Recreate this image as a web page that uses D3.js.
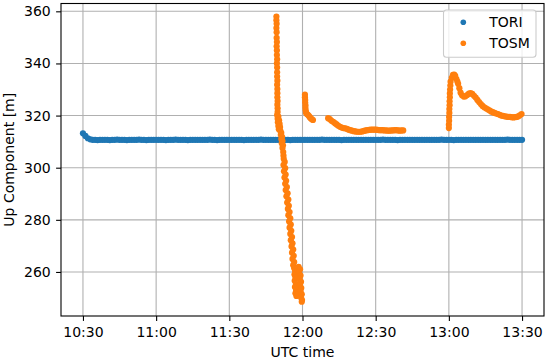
<!DOCTYPE html>
<html>
<head>
<meta charset="utf-8">
<script src="https://cdn.jsdelivr.net/npm/d3@7"></script>
<style>
    html, body { margin: 0; padding: 0; background: #fff; }
    svg { display: block; font-family: "DejaVu Sans", sans-serif; }
</style>
</head>
<body>
<svg id="chart" width="550" height="362"></svg>
<script>
// time is kept as minutes after the first epoch (10:30 UTC)
const startTime = "10:30";
const xDomain = ["10:21", "13:39"];
const yDomain = [243.1, 363.0];
const xTickLabels = ["10:30", "11:00", "11:30", "12:00", "12:30", "13:00", "13:30"];
const yTicks = [260, 280, 300, 320, 340, 360];
const seriesNames = ["TORI", "TOSM"];

// TORI: one sample per minute, 10:30 .. 13:30
const toriValues = [
    313.2, 312.2, 311.3, 310.9, 310.7, 310.7, 310.6, 310.7, 310.7, 310.7,
    310.7, 310.6, 310.7, 310.7, 310.8, 310.7, 310.7, 310.7, 310.6, 310.7,
    310.7, 310.7, 310.7, 310.8, 310.7, 310.7, 310.6, 310.7, 310.7, 310.7,
    310.7, 310.7, 310.7, 310.7, 310.6, 310.7, 310.7, 310.7, 310.8, 310.7,
    310.7, 310.7, 310.7, 310.6, 310.7, 310.7, 310.7, 310.7, 310.7, 310.7,
    310.7, 310.7, 310.8, 310.7, 310.7, 310.6, 310.7, 310.7, 310.7, 310.7,
    310.7, 310.7, 310.7, 310.7, 310.7, 310.7, 310.6, 310.7, 310.7, 310.7,
    310.7, 310.7, 310.7, 310.8, 310.7, 310.7, 310.7, 310.7, 310.7, 310.7,
    310.7, 310.7, 310.7, 310.7, 310.7, 310.6, 310.7, 310.7, 310.7, 310.7,
    310.7, 310.7, 310.7, 310.7, 310.7, 310.7, 310.7, 310.7, 310.8, 310.7,
    310.7, 310.7, 310.7, 310.7, 310.7, 310.7, 310.6, 310.7, 310.7, 310.7,
    310.7, 310.7, 310.7, 310.7, 310.7, 310.7, 310.7, 310.7, 310.7, 310.7,
    310.7, 310.7, 310.7, 310.8, 310.7, 310.7, 310.7, 310.7, 310.7, 310.6,
    310.7, 310.7, 310.7, 310.7, 310.7, 310.7, 310.7, 310.7, 310.7, 310.7,
    310.7, 310.7, 310.7, 310.7, 310.7, 310.7, 310.7, 310.8, 310.7, 310.7,
    310.7, 310.7, 310.6, 310.7, 310.7, 310.7, 310.7, 310.7, 310.7, 310.7,
    310.7, 310.7, 310.7, 310.7, 310.7, 310.7, 310.7, 310.7, 310.7, 310.7,
    310.7, 310.7, 310.7, 310.7, 310.8, 310.7, 310.7, 310.7, 310.7, 310.7,
    310.7
];

// TOSM: [minutes after 10:30, up component]
const tosmPoints = [
    // spike near 11:50
    [79.3, 358.0], [79.3, 356.6], [79.4, 355.2], [79.3, 353.6], [79.4, 352.0], [79.4, 349.8],
    [79.5, 348.2], [79.4, 346.6], [79.5, 345.0], [79.5, 343.2], [79.6, 341.6], [79.5, 340.0],
    [79.6, 338.4], [79.6, 336.6], [79.6, 335.0], [79.7, 333.4], [79.6, 331.8], [79.7, 330.2],
    [79.7, 328.6], [79.7, 327.0], [79.8, 325.6], [79.7, 324.2], [79.8, 322.8], [79.8, 321.4],
    [79.6, 320.2], [80.1, 319.6], [79.8, 318.8], [80.4, 318.2], [79.9, 317.4], [80.6, 316.8],
    [80.1, 316.0], [80.8, 315.6], [80.3, 314.8], [80.9, 314.2], [81.3, 313.4], [81.1, 312.6],
    [81.6, 311.8], [81.3, 311.0], [81.8, 310.2], [81.5, 309.4], [82.0, 308.6], [81.8, 307.6],
    [82.1, 306.0], [82.2, 304.6],
    [82.3, 303.4], [82.7, 302.2], [82.2, 301.0], [82.9, 299.8], [82.4, 298.6], [83.1, 297.4],
    [82.6, 296.2], [83.3, 295.0], [82.9, 293.8], [83.6, 292.6], [83.1, 291.4], [83.9, 290.2],
    [83.4, 289.0], [84.2, 287.8], [83.7, 286.6], [84.4, 285.4], [84.0, 284.2], [84.7, 283.0],
    [84.2, 281.8], [85.0, 280.6], [84.5, 279.4], [85.2, 278.2], [84.7, 277.0], [85.4, 275.8],
    [85.0, 274.6], [85.7, 273.4], [85.2, 272.2], [85.9, 271.0], [85.5, 269.8], [86.2, 268.6],
    [85.7, 267.4], [86.4, 266.2], [85.9, 265.0], [86.6, 263.8], [86.2, 262.6],
    [86.6, 261.4], [87.0, 260.2], [86.7, 259.0], [87.1, 257.8], [86.8, 256.6], [87.3, 255.4],
    [86.9, 254.2], [87.4, 253.0], [87.1, 251.8], [87.5, 250.8],
    [87.9, 261.5], [87.8, 258.0], [88.0, 254.5], [88.1, 251.5],
    [88.4, 262.0], [89.0, 261.0], [88.6, 259.8], [89.2, 258.6], [88.8, 257.4], [89.4, 256.2],
    [89.0, 255.0], [89.5, 253.8], [89.2, 252.6], [89.7, 251.4], [89.4, 250.2], [89.8, 249.2],
    [89.7, 248.6],
    // short piece after 12:00
    [91.0, 328.0], [91.0, 327.0], [91.1, 326.0], [91.1, 325.0], [91.2, 324.0], [91.2, 323.0],
    [91.3, 322.0], [91.4, 321.2], [91.7, 320.7], [92.1, 320.4], [92.5, 320.0], [92.9, 319.5],
    [93.3, 319.0], [93.8, 318.6], [94.3, 318.3],
    // 12:10 .. 12:41
    [100.5, 319.0], [101.2, 318.6], [101.9, 318.0], [102.6, 317.6], [103.3, 317.1], [104.0, 316.6],
    [104.7, 316.1], [105.4, 315.7], [106.1, 315.4], [106.8, 315.2], [107.5, 315.1], [108.2, 314.9],
    [108.9, 314.6], [109.6, 314.4], [110.3, 314.2], [111.0, 314.0], [111.7, 313.9], [112.4, 313.8],
    [113.1, 313.8], [113.8, 313.8], [114.5, 313.9], [115.2, 314.1], [115.9, 314.3], [116.6, 314.4],
    [117.3, 314.5], [118.0, 314.6], [118.7, 314.6], [119.4, 314.6], [120.1, 314.6], [120.8, 314.5],
    [121.5, 314.4], [122.2, 314.4], [122.9, 314.4], [123.6, 314.3], [124.3, 314.3], [125.0, 314.2],
    [125.7, 314.2], [126.4, 314.3], [127.1, 314.3], [127.8, 314.4], [128.5, 314.4], [129.2, 314.3],
    [129.9, 314.2], [130.6, 314.3], [131.3, 314.3],
    // 13:00 .. 13:30
    [150.0, 315.2], [150.0, 316.5], [150.1, 318.0], [150.1, 319.5], [150.2, 321.0], [150.2, 322.5],
    [150.3, 324.0], [150.3, 325.5], [150.4, 327.0], [150.4, 328.5], [150.5, 330.0], [150.6, 331.5],
    [150.7, 333.0], [151.2, 334.5], [151.7, 335.6], [152.2, 335.7], [152.6, 335.2], [153.1, 334.0],
    [153.5, 333.0], [153.8, 332.2], [154.3, 330.5], [154.8, 328.8], [155.4, 327.8], [156.1, 327.3],
    [156.8, 327.4], [157.5, 327.9], [158.2, 328.4], [158.9, 328.6], [159.6, 328.3], [160.3, 327.6],
    [161.0, 326.9], [161.7, 326.0], [162.4, 325.2], [163.1, 324.4], [163.8, 323.7], [164.5, 323.2],
    [165.2, 322.8], [165.9, 322.4], [166.6, 322.0], [167.3, 321.6], [168.0, 321.3], [168.7, 321.0],
    [169.4, 320.8], [170.1, 320.6], [170.8, 320.3], [171.5, 320.0], [172.2, 319.9], [172.9, 319.7],
    [173.6, 319.6], [174.3, 319.5], [175.0, 319.5], [175.7, 319.4], [176.4, 319.3], [177.1, 319.4],
    [177.8, 319.5], [178.5, 319.7], [179.1, 320.1], [179.8, 320.6]
];

const colors = ["#1f77b4", "#ff7f0e"];
const margin = { left: 61, right: 6, top: 3.5, bottom: 46 };
const width = 550, height = 362;
const fontSize = 14;
const dotRadius = 3.1;

const parse = d3.utcParse("%H:%M");
const t0 = parse(startTime);
const toDate = m => new Date(t0.getTime() + m * 60000);

const x = d3.scaleUtc()
    .domain(xDomain.map(parse))
    .range([margin.left, width - margin.right]);
const y = d3.scaleLinear()
    .domain(yDomain)
    .range([height - margin.bottom, margin.top]);

const svg = d3.select("#chart");
const plotTop = margin.top, plotBottom = height - margin.bottom;
const plotLeft = margin.left, plotRight = width - margin.right;

// grid
svg.append("g")
    .selectAll("line")
    .data(xTickLabels.map(parse))
    .enter().append("line")
    .attr("x1", d => x(d)).attr("x2", d => x(d))
    .attr("y1", plotTop).attr("y2", plotBottom)
    .attr("stroke", "#b0b0b0").attr("stroke-width", 1.1);
svg.append("g")
    .selectAll("line")
    .data(yTicks)
    .enter().append("line")
    .attr("x1", plotLeft).attr("x2", plotRight)
    .attr("y1", d => y(d)).attr("y2", d => y(d))
    .attr("stroke", "#b0b0b0").attr("stroke-width", 1.1);

// points
const series = [
    toriValues.map((v, i) => [i, v]),
    tosmPoints
];
series.forEach((pts, k) => {
    svg.append("g")
        .selectAll("circle")
        .data(pts)
        .enter().append("circle")
        .attr("cx", d => x(toDate(d[0])))
        .attr("cy", d => y(d[1]))
        .attr("r", dotRadius)
        .attr("fill", colors[k]);
});

// axes
const xAxis = svg.append("g")
    .attr("transform", `translate(0,${plotBottom})`)
    .call(d3.axisBottom(x)
        .tickValues(xTickLabels.map(parse))
        .tickFormat(d3.utcFormat("%H:%M"))
        .tickSize(4.9)
        .tickPadding(6.6));
const yAxis = svg.append("g")
    .attr("transform", `translate(${plotLeft},0)`)
    .call(d3.axisLeft(y)
        .tickValues(yTicks)
        .tickSize(4.9)
        .tickPadding(5.4));
[xAxis, yAxis].forEach(g => {
    g.select(".domain").remove();
    g.attr("font-family", "DejaVu Sans").attr("font-size", fontSize);
    g.selectAll(".tick line").attr("stroke", "#000").attr("stroke-width", 1.1);
    g.selectAll(".tick text").attr("fill", "#000");
});

// frame
svg.append("rect")
    .attr("x", plotLeft).attr("y", plotTop)
    .attr("width", plotRight - plotLeft).attr("height", plotBottom - plotTop)
    .attr("fill", "none").attr("stroke", "#000").attr("stroke-width", 1.1);

// axis labels
svg.append("text")
    .attr("x", (plotLeft + plotRight) / 2).attr("y", 356.5)
    .attr("text-anchor", "middle").attr("font-size", fontSize)
    .text("UTC time");
svg.append("text")
    .attr("transform", `translate(13.5,${(plotTop + plotBottom) / 2}) rotate(-90)`)
    .attr("text-anchor", "middle").attr("font-size", fontSize)
    .text("Up Component [m]");

// legend
const legend = svg.append("g").attr("transform", "translate(443.5,10)");
legend.append("rect")
    .attr("width", 92.5).attr("height", 47.3)
    .attr("rx", 3).attr("ry", 3)
    .attr("fill", "#fff").attr("fill-opacity", 0.8)
    .attr("stroke", "#cccccc").attr("stroke-width", 1.1);
seriesNames.forEach((name, i) => {
    const row = legend.append("g").attr("transform", `translate(0,${12.3 + i * 21})`);
    row.append("circle").attr("cx", 19.8).attr("cy", 0).attr("r", 2.8).attr("fill", colors[i]);
    row.append("text").attr("x", 45.8).attr("y", 5).attr("font-size", fontSize).text(name);
});
</script>
</body>
</html>
